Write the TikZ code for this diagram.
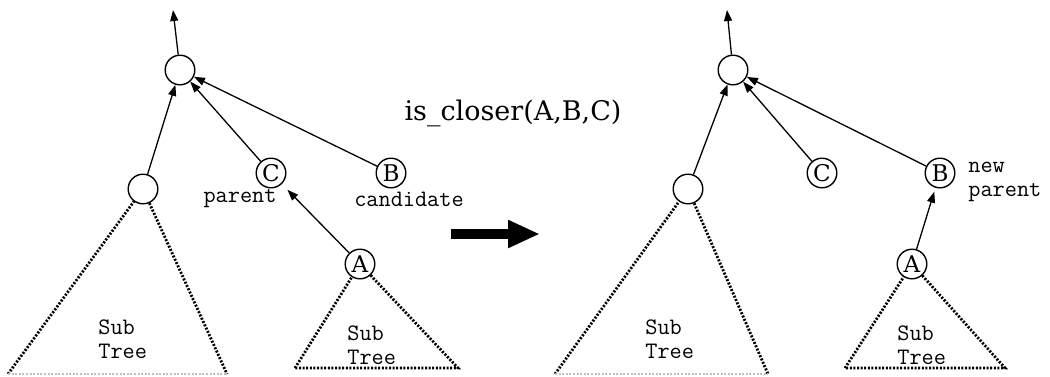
\documentclass[tikz,border=0pt]{standalone}
\usepackage{fontspec}
\newfontfamily\schfont{DejaVu Serif}
\usetikzlibrary{arrows.meta,positioning}
\tikzset{
  vtx/.style={draw,circle,line width=0.7pt,minimum size=14.8pt,inner sep=0pt,font=\schfont\fontsize{11.5}{12}\selectfont},
  ar/.style={-{Triangle[length=5.5pt,width=4pt]},line width=0.65pt},
  subtree/.style={line width=1.4pt,dash pattern=on 1pt off 0.8pt},
  tt/.style={font=\ttfamily\fontsize{11.8}{12}\selectfont,inner sep=0pt,align=left}
}

\begin{document}
\begin{tikzpicture}[x=0.5pt,y=-0.5pt]
\useasboundingbox (0,0) rectangle (1050,376);
% tree before the test
\node[vtx] (r1) at (180,70) {};
\node[vtx] (s1) at (143,189) {};
\node[vtx] (c1) at (271,173) {C};
\node[vtx] (b1) at (391,173) {B};
\node[vtx] (a1) at (360,264) {A};
\coordinate (up1) at (173,10);
\draw[ar] (r1) -- (up1);
\draw[ar] (s1) -- (r1);
\draw[ar] (c1) -- (r1);
\draw[ar] (b1) -- (r1);
\draw[ar,shorten >=4pt] (a1) -- (c1);
\node[tt] (par1) at (240,199) {parent};
\node[tt] (cand) at (409,199) {candidate};
% subtrees
\coordinate (bl1) at (8,374); \coordinate (br1) at (227,374);
\draw[subtree] (bl1) -- (s1) -- (br1);
\draw[subtree,black!25,line width=0.8pt] (bl1) -- (br1);
\node[tt,anchor=west] (st1) at (98,339) {Sub\\Tree};
\coordinate (al1) at (295,368); \coordinate (ar1) at (458,368);
\draw[subtree] (al1) -- (a1) -- (ar1) -- (al1);
\node[tt,anchor=west] (sa1) at (347,345) {Sub\\Tree};

% the test and the big arrow
\node[font=\schfont\fontsize{13.5}{16}\selectfont,inner sep=0pt] (op) at (513,113) {is\_closer(A,B,C)};
\coordinate (go0) at (451,234); \coordinate (go1) at (540,234);
\draw[line width=5pt,-{Triangle[length=16pt,width=13pt]}] (go0) -- (go1);

% tree after the test
\node[vtx] (r2) at (733,70) {};
\node[vtx] (s2) at (688,189) {};
\node[vtx] (c2) at (822,173) {C};
\node[vtx] (b2) at (940,173) {B};
\node[vtx] (a2) at (912,264) {A};
\coordinate (up2) at (727,10);
\draw[ar] (r2) -- (up2);
\draw[ar] (s2) -- (r2);
\draw[ar] (c2) -- (r2);
\draw[ar] (b2) -- (r2);
\draw[ar,shorten >=2pt] (a2) -- (b2);
\node[tt,anchor=west] (np) at (968,182) {new\\parent};
% subtrees
\coordinate (bl2) at (555,374); \coordinate (br2) at (768,374);
\draw[subtree] (bl2) -- (s2) -- (br2);
\draw[subtree,black!25,line width=0.8pt] (bl2) -- (br2);
\node[tt,anchor=west] (st2) at (645,339) {Sub\\Tree};
\coordinate (al2) at (845,368); \coordinate (ar2) at (1005,368);
\draw[subtree] (al2) -- (a2) -- (ar2) -- (al2);
\node[tt,anchor=west] (sa2) at (897,345) {Sub\\Tree};
\end{tikzpicture}
\end{document}
